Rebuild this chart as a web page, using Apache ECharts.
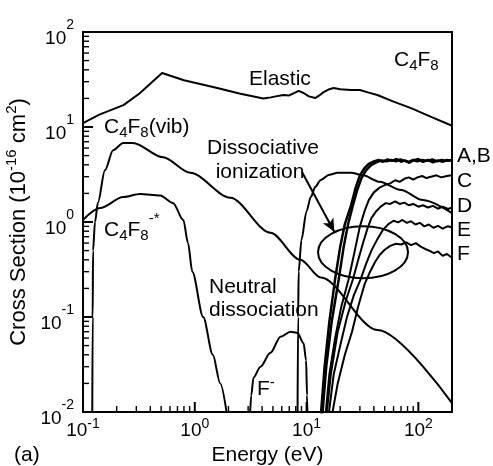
<!DOCTYPE html>
<html>
<head>
<meta charset="utf-8">
<script src="https://cdn.jsdelivr.net/npm/echarts@6.0.0/dist/echarts.min.js"></script>
<style>
  html, body { margin: 0; padding: 0; background: #fff; }
  #chart { width: 493px; height: 466px; }
</style>
</head>
<body>
<div id="chart"></div>
<script>
// [energy eV, cross section 1e-16 cm2]
var elastic = [[0.1, 11], [0.14, 13.5], [0.23, 17], [0.32, 22.5], [0.51, 37], [0.8, 31], [1.59, 25.7], [2.5, 22.5],
    [4.1, 20], [4.8, 20.5], [5.3, 21], [6.2, 21.7], [7.0, 21.5], [8.5, 24], [9.4, 22.8], [10.5, 21], [12, 20.2],
    [13, 21.5], [14.2, 23.3], [16, 25], [17.5, 25.7], [20, 25], [24.8, 24.5], [30, 24.5], [36, 23], [43, 21.7],
    [60, 18.5], [86, 15.8], [130, 12.8], [200, 10.3]];
var vib = [[0.121, 0.008], [0.122, 0.1], [0.123, 0.5], [0.128, 1.0], [0.136, 1.6], [0.157, 3.5], [0.186, 5.7],
    [0.229, 6.8], [0.28, 6.8], [0.52, 4.8], [0.91, 3.3], [2.08, 1.8], [4.75, 0.77], [8.8, 0.4], [13.4, 0.26],
    [43, 0.073], [200, 0.0124]];
var attach = [[0.1, 1.05], [0.142, 1.4], [0.229, 1.83], [0.324, 1.97], [0.49, 1.9], [0.64, 1.58], [0.79, 1.05],
    [0.87, 0.6], [0.95, 0.3], [1.19, 0.1], [1.45, 0.04], [1.69, 0.02], [1.95, 0.009]];
var fNeg = [[3.1, 0.008], [3.2, 0.015], [3.35, 0.023], [3.87, 0.03], [4.75, 0.042], [5.85, 0.062], [7.2, 0.07],
    [8.3, 0.068], [9.4, 0.053], [9.9, 0.035], [10.1, 0.015], [10.2, 0.008]];
var neutral = [[8.3, 0.008], [8.4, 0.1], [8.5, 0.3], [9.0, 0.65], [10, 1.3], [10.9, 1.83], [12, 2.35], [13.4, 2.77],
    [16, 3.15], [19, 3.3], [25, 3.3], [32, 3.1], [45, 2.65], [70, 2.17], [110, 1.7], [200, 1.24]];
var ionA = [[13.3, 0.008], [14.5, 0.03], [16, 0.09], [18, 0.25], [20, 0.55], [22, 0.95], [25, 1.5], [27.5, 2.3],
    [30, 3.1], [33, 3.7], [36, 4.1], [40, 4.35], [44, 4.5], [48, 4.3], [53, 4.55], [58, 4.4], [64, 4.6], [70, 4.3],
    [76, 4.45], [83, 4.2], [90, 4.45], [100, 4.6], [110, 4.3], [122, 4.5], [135, 4.25], [150, 4.45], [165, 4.3],
    [180, 4.5], [200, 4.4]];
var ionB = [[13.7, 0.008], [15, 0.03], [16.8, 0.09], [19.4, 0.25], [21.5, 0.55], [23.5, 0.95], [26, 1.5],
    [28.5, 2.2], [31, 2.9], [34, 3.5], [38, 4.0], [42, 4.25], [47, 4.45], [52, 4.35], [57, 4.5], [63, 4.35],
    [69, 4.55], [75, 4.4], [82, 4.3], [90, 4.5], [98, 4.35], [108, 4.5], [120, 4.4], [133, 4.55], [148, 4.35],
    [162, 4.5], [180, 4.4], [200, 4.5]];
var ionC = [[14.6, 0.008], [16, 0.025], [18, 0.06], [20.5, 0.13], [23.8, 0.25], [27, 0.5], [30, 0.9], [33, 1.3],
    [36, 1.7], [40, 2.05], [45, 2.3], [50, 2.45], [56, 2.55], [62, 2.75], [68, 2.65], [75, 2.85], [82, 2.95],
    [90, 2.8], [98, 2.95], [108, 3.05], [118, 2.9], [130, 3.0], [145, 3.1], [160, 2.95], [180, 3.05], [200, 3.1]];
var ionD = [[14.9, 0.008], [16.5, 0.025], [19, 0.07], [22.5, 0.15], [26, 0.25], [29, 0.4], [32, 0.6], [35, 0.85],
    [38, 1.1], [42, 1.3], [46, 1.45], [51, 1.58], [56, 1.55], [62, 1.65], [68, 1.55], [75, 1.6], [82, 1.5],
    [90, 1.55], [100, 1.45], [110, 1.5], [122, 1.42], [135, 1.48], [150, 1.38], [165, 1.45], [185, 1.37], [200, 1.42]];
var ionE = [[15.5, 0.008], [17.5, 0.025], [20, 0.05], [23, 0.1], [26.5, 0.17], [30.5, 0.25], [34, 0.36], [38, 0.5],
    [43, 0.66], [48, 0.82], [54, 0.95], [60, 1.03], [66, 0.99], [72, 1.05], [79, 0.98], [86, 1.02], [94, 0.94],
    [103, 0.98], [113, 0.9], [124, 0.94], [136, 0.87], [150, 0.91], [165, 0.85], [182, 0.9], [200, 0.88]];
var ionF = [[16.5, 0.008], [19, 0.02], [22, 0.04], [25.5, 0.07], [29, 0.13], [33, 0.22], [37, 0.3], [41, 0.38],
    [45, 0.45], [50, 0.51], [56, 0.56], [63, 0.59], [70, 0.58], [78, 0.61], [86, 0.57], [95, 0.6], [105, 0.55],
    [115, 0.52], [125, 0.5], [138, 0.47], [150, 0.49], [165, 0.44], [180, 0.46], [200, 0.42]];

// tick values
var majorX = [0.1, 1, 10, 100];
var majorY = [0.01, 0.1, 1, 10, 100];

// arrow from the "Dissociative ionization" label to the ellipse, ellipse centre
var arrowFrom = [9.1, 3.36];
var arrowTo = [17.7, 0.79];
var ellipseCenter = [32, 0.48];

var xMin = 0.1, xMax = 200, yMin = 0.01, yMax = 100;

var FONT = '"Liberation Sans", Arial, Helvetica, sans-serif';

// log minor tick values (2..9 in each decade)
function minorTicks(lo, hi) {
    var out = [];
    for (var n = Math.floor(Math.log10(lo)); n <= Math.ceil(Math.log10(hi)); n++) {
        for (var k = 2; k <= 9; k++) {
            var v = k * Math.pow(10, n);
            if (v > lo && v < hi) out.push(v);
        }
    }
    return out;
}
var minorX = minorTicks(xMin, xMax);
var minorY = minorTicks(yMin, yMax);

function powLabel(v) {
    var e = Math.log10(v);
    if (Math.abs(e - Math.round(e)) > 1e-6) return '';
    return '{b|10}{p|' + Math.round(e) + '}';
}

var chart = echarts.init(document.getElementById('chart'));

function curve(data, width, smooth) {
    return {
        type: 'line',
        data: data,
        symbol: 'none',
        smooth: smooth,
        smoothMonotone: 'x',
        clip: true,
        xAxisIndex: 0,
        yAxisIndex: 0,
        lineStyle: { color: '#000', width: width }
    };
}

var series = [
    curve(elastic, 2, false),
    curve(vib, 2, 0.3),
    curve(attach, 2, 0.3),
    curve(fNeg, 2, 0.3),
    curve(neutral, 2, 0.3),
    curve(ionA, 2.5, false),
    curve(ionB, 2.5, false),
    curve(ionC, 2, false),
    curve(ionD, 2, false),
    curve(ionE, 2, false),
    curve(ionF, 2, false)
];
series[5].markLine = {
    silent: true,
    symbol: ['none', 'arrow'],
    symbolSize: [9, 13],
    label: { show: false },
    lineStyle: { color: '#000', width: 2, type: 'solid' },
    data: [[{ coord: arrowFrom }, { coord: arrowTo }]]
};

var txt = { fontFamily: FONT, fontSize: 21, color: '#000' };
var sub = { fontFamily: FONT, fontSize: 15, color: '#000', padding: [12, 0, 0, 0] };
var sup = { fontFamily: FONT, fontSize: 15, color: '#000', padding: [0, 0, 13, 0] };

function label(x, y, text, align, extraSup) {
    return {
        type: 'text',
        x: x,
        y: y,
        z: 20,
        style: {
            text: text,
            align: align || 'left',
            verticalAlign: 'middle',
            fontFamily: FONT,
            fontSize: 21,
            fill: '#000',
            rich: { m: txt, s: sub, p: extraSup || sup }
        }
    };
}

// plain lines closing the frame on the top and right
function frameAxis(pos) {
    return {
        type: 'value', position: pos, offset: 0, z: 10, min: 0, max: 1,
        axisLine: { show: true, onZero: false, lineStyle: { color: '#000', width: 2 } },
        axisTick: { show: false },
        axisLabel: { show: false },
        splitLine: { show: false }
    };
}

var option = {
    animation: false,
    backgroundColor: '#fff',
    grid: {
        left: 83, top: 32, right: 41, bottom: 54,
        containLabel: false, outerBoundsMode: 'none',
        show: false
    },
    xAxis: [{
        type: 'log', logBase: 10, min: xMin, max: xMax, z: 10,
        name: 'Energy (eV)', nameLocation: 'middle', nameGap: 32,
        nameTextStyle: { fontFamily: FONT, fontSize: 21, color: '#000' },
        axisLine: { show: true, onZero: false, lineStyle: { color: '#000', width: 2 } },
        axisTick: { show: false },
        splitLine: { show: false },
        axisLabel: {
            show: true, formatter: powLabel, margin: 5, color: '#000',
            rich: {
                b: { fontFamily: FONT, fontSize: 19, color: '#000' },
                p: { fontFamily: FONT, fontSize: 14, color: '#000', padding: [0, 0, 13, 0] }
            }
        }
    }, frameAxis('top')],
    yAxis: [{
        type: 'log', logBase: 10, min: yMin, max: yMax, z: 10,
        name: '{m|Cross Section (10}{p|-16}{m| cm}{p|2}{m|)}',
        nameLocation: 'middle', nameGap: 45, nameRotate: 90,
        nameTextStyle: {
            fontFamily: FONT, fontSize: 22, color: '#000',
            rich: {
                m: { fontFamily: FONT, fontSize: 22, color: '#000' },
                p: { fontFamily: FONT, fontSize: 15, color: '#000', padding: [0, 0, 13, 0] }
            }
        },
        axisLine: { show: true, onZero: false, lineStyle: { color: '#000', width: 2 } },
        axisTick: { show: false },
        splitLine: { show: false },
        axisLabel: {
            show: true, formatter: powLabel, margin: 9, color: '#000',
            rich: {
                b: { fontFamily: FONT, fontSize: 19, color: '#000', padding: [13, 0, 0, 0] },
                p: { fontFamily: FONT, fontSize: 14, color: '#000', padding: [0, 0, 13, 0] }
            }
        }
    }, frameAxis('right')],
    series: series
};

chart.setOption(option);

// inward ticks, placed through the log scales
function tickLines(vals, onX, len, width) {
    return vals.map(function (v) {
        var p = chart.convertToPixel({ xAxisIndex: 0, yAxisIndex: 0 }, onX ? [v, yMin] : [xMin, v]);
        return {
            type: 'line',
            z: 15,
            silent: true,
            shape: onX ? { x1: p[0], y1: p[1], x2: p[0], y2: p[1] - len }
                       : { x1: p[0], y1: p[1], x2: p[0] + len, y2: p[1] },
            style: { stroke: '#000', lineWidth: width }
        };
    });
}

var c = chart.convertToPixel({ xAxisIndex: 0, yAxisIndex: 0 }, ellipseCenter);
var graphics = [
    label(249, 79, '{m|Elastic}'),
    label(394, 60, '{m|C}{s|4}{m|F}{s|8}'),
    label(104, 127, '{m|C}{s|4}{m|F}{s|8}{m|(vib)}'),
    label(104, 230, '{m|C}{s|4}{m|F}{s|8}{p|-*}', 'left',
        { fontFamily: FONT, fontSize: 15, color: '#000', padding: [0, 0, 22, 0] }),
    label(263, 148, '{m|Dissociative}', 'center'),
    label(260, 172, '{m|ionization}', 'center'),
    label(209, 287, '{m|Neutral}'),
    label(209, 310, '{m|dissociation}'),
    label(257, 389, '{m|F}{p|-}'),
    label(457, 156, '{m|A,B}'),
    label(457, 181, '{m|C}'),
    label(457, 206, '{m|D}'),
    label(457, 230, '{m|E}'),
    label(457, 254, '{m|F}'),
    label(14, 455, '{m|(a)}'),
    {
        type: 'ellipse',
        shape: { cx: c[0], cy: c[1], rx: 45, ry: 26 },
        style: { fill: null, stroke: '#000', lineWidth: 2 },
        z: 10
    }
].concat(
    tickLines(majorX, true, 10, 2),
    tickLines(minorX, true, 6, 1.4),
    tickLines(majorY, false, 10, 2),
    tickLines(minorY, false, 6, 1.4)
);

chart.setOption({ graphic: graphics });
</script>
</body>
</html>
